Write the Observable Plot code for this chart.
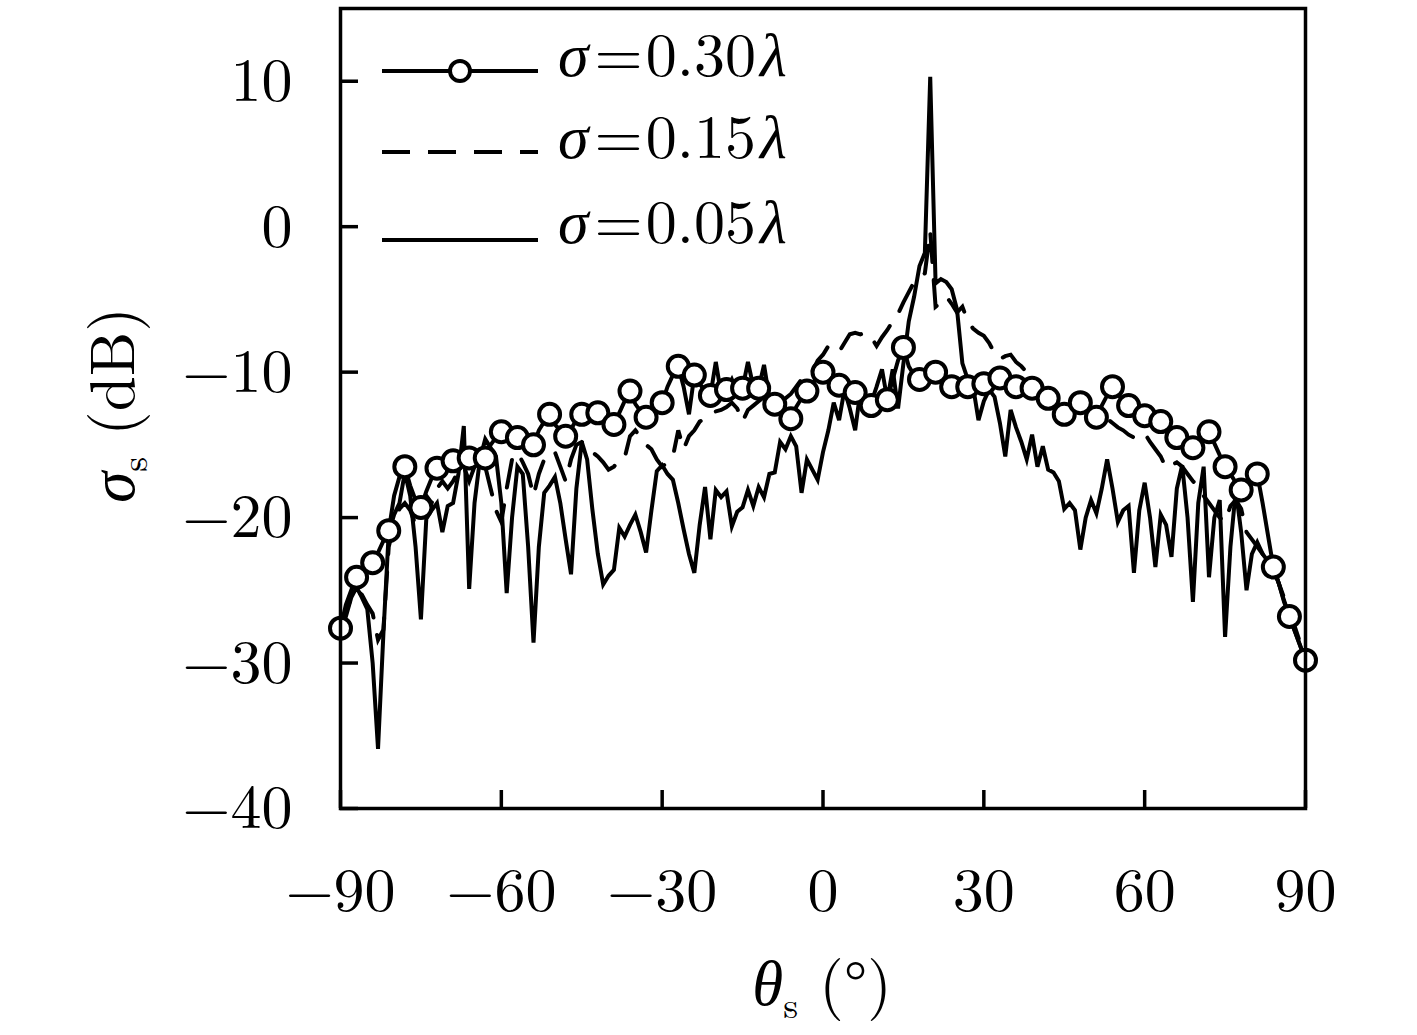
<!DOCTYPE html>
<html><head><meta charset="utf-8">
<script src="https://cdn.jsdelivr.net/npm/d3@7"></script>
<script src="https://cdn.jsdelivr.net/npm/@observablehq/plot@0.6"></script>
<style>html,body{margin:0;padding:0;background:#fff}</style>
</head><body><div id="chart"></div>
<script>
// scattering angle grid (degrees), 1° step
const angles = d3.range(-90, 91, 1);

// sigma = 0.30 lambda (markers every 3°)
const sigma030 = [
 -27.6,-26.0,-25.0,-24.1,-23.8,-23.5,-23.1,-22.4,-21.6,-20.9,
 -18.5,-17.2,-16.5,-17.8,-18.8,-19.3,-18.2,-17.3,-16.6,-16.4,
 -16.2,-16.1,-16.0,-15.9,-15.9,-15.8,-15.9,-15.9,-15.0,-14.5,
 -14.1,-14.3,-14.4,-14.5,-14.7,-14.9,-15.0,-14.0,-13.4,-12.9,
 -13.6,-14.0,-14.4,-13.9,-13.3,-12.9,-12.8,-12.8,-12.8,-13.1,
 -13.4,-13.6,-12.8,-12.0,-11.3,-12.2,-12.7,-13.1,-12.6,-12.3,
 -12.1,-11.0,-10.2,-9.6,-11.0,-12.9,-10.2,-10.8,-11.3,-11.6,
 -9.3,-11.5,-11.2,-10.5,-11.4,-11.1,-9.3,-11.0,-11.1,-9.5,
 -11.8,-12.2,-12.5,-12.9,-13.2,-12.4,-11.8,-11.3,-10.8,-10.3,
 -10.0,-10.4,-10.7,-10.9,-11.1,-11.3,-11.4,-11.8,-12.1,-12.3,
 -12.2,-12.0,-11.9,-10.5,-9.2,-8.3,-9.6,-10.2,-10.5,-10.3,
 -10.1,-10.0,-10.4,-10.8,-11.0,-11.0,-11.0,-11.0,-10.9,-10.8,
 -10.8,-10.6,-10.5,-10.4,-10.7,-10.9,-11.0,-11.0,-11.1,-11.1,
 -11.3,-11.6,-11.8,-12.2,-12.6,-12.9,-12.6,-12.3,-12.1,-12.5,
 -12.8,-13.1,-12.3,-11.6,-11.0,-11.5,-12.0,-12.3,-12.5,-12.8,
 -13.0,-13.1,-13.3,-13.4,-13.8,-14.2,-14.5,-14.8,-15.0,-15.2,
 -14.8,-14.4,-14.1,-14.9,-15.7,-16.5,-17.0,-17.6,-18.1,-17.7,
 -17.3,-17.0,-19.0,-21.2,-23.4,-24.5,-25.7,-26.8,-27.8,-28.8,
 -29.8
];

// sigma = 0.15 lambda (dashed)
const sigma015 = [
 -27.6,-26.5,-25.5,-25.0,-25.3,-26.0,-26.6,-28.4,-27.7,-22.0,
 -20.5,-19.4,-19.0,-19.5,-20.5,-19.5,-18.5,-19.0,-18.0,-17.5,
 -18.0,-17.5,-16.8,-16.5,-17.5,-16.5,-16.0,-16.5,-18.0,-19.5,
 -20.3,-18.0,-16.0,-15.5,-16.2,-17.0,-18.5,-17.0,-16.0,-15.5,
 -15.5,-16.5,-17.5,-16.0,-15.0,-14.8,-15.0,-15.5,-15.8,-16.2,
 -16.7,-16.5,-16.0,-15.9,-14.4,-14.0,-14.5,-15.0,-15.3,-16.0,
 -16.5,-16.2,-15.8,-14.0,-15.3,-14.4,-14.0,-13.4,-13.2,-13.0,
 -12.7,-12.6,-12.4,-12.1,-12.5,-13.4,-12.6,-12.3,-12.0,-11.7,
 -11.8,-12.0,-12.0,-11.8,-11.5,-11.0,-10.5,-10.5,-10.0,-9.2,
 -8.8,-8.2,-8.4,-8.6,-8.0,-7.4,-7.3,-7.4,-7.3,-7.6,
 -8.2,-7.6,-7.1,-6.5,-6.0,-5.2,-4.5,-3.8,-3.5,-3.2,
 -0.3,-5.5,-5.2,-4.8,-5.3,-5.9,-5.5,-6.5,-7.0,-7.3,
 -7.5,-8.0,-8.7,-9.1,-8.9,-8.8,-9.3,-9.6,-10.0,-10.5,
 -10.8,-11.2,-11.5,-11.8,-12.0,-12.3,-12.0,-12.3,-12.6,-12.8,
 -13.0,-13.2,-13.0,-13.2,-13.5,-13.8,-14.0,-14.3,-14.5,-14.3,
 -14.2,-14.8,-15.3,-15.8,-16.6,-16.4,-16.2,-16.5,-17.0,-17.5,
 -17.8,-18.5,-19.0,-19.5,-20.0,-20.3,-19.2,-18.8,-19.4,-21.0,
 -21.5,-22.0,-22.5,-23.0,-23.6,-24.5,-25.5,-26.5,-27.5,-28.6,
 -29.8
];

// sigma = 0.05 lambda (solid)
const sigma005 = [
 -27.6,-26.8,-25.5,-24.8,-25.5,-26.3,-30.0,-35.9,-28.0,-21.0,
 -19.8,-19.0,-16.9,-18.5,-22.0,-27.0,-20.1,-19.5,-19.0,-21.0,
 -19.2,-19.0,-17.0,-13.7,-24.9,-19.0,-16.0,-14.6,-15.2,-15.8,
 -19.0,-25.2,-20.0,-16.5,-17.0,-22.0,-28.6,-22.0,-18.3,-17.8,
 -17.2,-19.0,-21.5,-23.9,-18.0,-14.8,-16.0,-19.5,-22.5,-24.6,
 -24.0,-23.6,-20.7,-21.3,-20.5,-19.8,-21.0,-22.4,-19.5,-16.8,
 -16.4,-17.0,-17.4,-19.0,-20.8,-22.5,-23.8,-20.5,-17.9,-21.5,
 -18.1,-18.6,-18.2,-20.6,-19.6,-19.3,-18.1,-19.2,-17.9,-18.6,
 -17.0,-16.9,-14.8,-15.3,-14.4,-15.1,-18.3,-16.0,-16.7,-17.4,
 -15.5,-14.0,-12.1,-13.3,-11.2,-12.5,-14.0,-11.2,-12.0,-12.1,
 -11.0,-9.8,-11.9,-9.8,-12.5,-9.4,-6.5,-4.8,-2.7,-1.8,
 10.3,-3.9,-3.6,-3.8,-4.3,-5.7,-9.4,-10.5,-11.0,-13.3,
 -12.0,-11.2,-11.7,-13.5,-15.8,-12.6,-13.8,-14.8,-16.0,-14.3,
 -16.5,-15.1,-16.7,-16.9,-17.5,-19.4,-19.0,-19.5,-22.2,-20.0,
 -18.8,-19.7,-18.0,-16.0,-18.0,-20.3,-19.5,-19.2,-23.8,-19.5,
 -17.6,-20.0,-23.4,-19.8,-20.5,-22.7,-18.0,-16.4,-20.0,-25.8,
 -19.0,-16.5,-24.1,-20.0,-18.8,-28.2,-22.0,-18.1,-21.0,-25.0,
 -22.5,-21.7,-22.5,-23.0,-23.4,-24.5,-25.8,-26.8,-27.8,-28.8,
 -29.8
];

const yTicks = [10, 0, -10, -20, -30, -40];
const xTicks = [-90, -60, -30, 0, 30, 60, 90];
const seriesLabels = ["0.30", "0.15", "0.05"];

const toRows = arr => angles.map((a, i) => ({theta: a, v: arr[i]}));
const dA = toRows(sigma030), dB = toRows(sigma015), dC = toRows(sigma005);
const markers = dA.filter((d, i) => i % 3 === 0);

const FONT = "'Latin Modern Roman','CMU Serif','Liberation Serif','DejaVu Serif',serif";
const FS = 62;     // tick labels
const FL = 62;     // legend
const FA = 63;     // axis titles
const SW = 4;
const lineStyle = {x: "theta", y: "v", stroke: "#000", strokeWidth: SW, strokeLinejoin: "miter", strokeMiterlimit: 4, curve: "linear"};

const chart = Plot.plot({
  width: 1417, height: 1035,
  marginLeft: 340, marginRight: 112, marginTop: 8, marginBottom: 227,
  style: {fontFamily: FONT, fontSize: FS + "px", background: "#fff", color: "#000"},
  x: {domain: [-90, 90], label: null},
  y: {domain: [-40, 15], label: null},
  marks: [
    Plot.line(dC, lineStyle),
    Plot.line(dB, {...lineStyle, strokeDasharray: "28,18"}),
    Plot.line(dA, lineStyle),
    Plot.dot(markers, {x: "theta", y: "v", r: 10.5, fill: "#fff", stroke: "#000", strokeWidth: SW}),
    Plot.frame({stroke: "#000", strokeWidth: 3.5}),
    Plot.axisY(yTicks, {tickSize: 18, dx: 18, tickFormat: () => "", label: null, strokeWidth: 3.5}),
    Plot.axisX(xTicks, {tickSize: 18, dy: -18, tickFormat: () => "", label: null, strokeWidth: 3.5}),
    Plot.axisY(yTicks, {tickSize: 0, tickPadding: 48, fontSize: FS, label: null, fill: "#000"}),
    Plot.axisX(xTicks, {tickSize: 0, tickPadding: 58, fontSize: FS, label: null, fill: "#000"})
  ]
});
document.getElementById("chart").appendChild(chart);

const svg = d3.select(chart);
const gText = svg.append("g").attr("font-family", FONT).attr("fill", "#000");

// y axis label: sigma_s (dB)
const yl = gText.append("text").attr("transform", "translate(134,405) rotate(-90)")
  .attr("text-anchor", "middle").attr("font-size", FA);
yl.append("tspan").attr("font-style", "italic").text("σ");
yl.append("tspan").attr("font-size", 38).attr("dy", 13).text("s");
yl.append("tspan").attr("dy", -13).text(" (dB)");

// x axis label: theta_s (deg)
const xl = gText.append("text").attr("x", 822).attr("y", 1005)
  .attr("text-anchor", "middle").attr("font-size", FA);
xl.append("tspan").attr("font-style", "italic").text("θ");
xl.append("tspan").attr("font-size", 38).attr("dy", 13).text("s");
xl.append("tspan").attr("dy", -13).text(" (°)");

// legend
const legY = [71, 152, 240];
const legBase = [76, 158, 243];
const gLeg = svg.append("g");
seriesLabels.forEach((lab, i) => {
  const ln = gLeg.append("line").attr("x1", 382).attr("x2", 538)
    .attr("y1", legY[i]).attr("y2", legY[i]).attr("stroke", "#000").attr("stroke-width", SW);
  if (i === 1) ln.attr("stroke-dasharray", "28,18");
  if (i === 0) gLeg.append("circle").attr("cx", 460).attr("cy", legY[i]).attr("r", 10)
    .attr("fill", "#fff").attr("stroke", "#000").attr("stroke-width", SW);
  const t = gLeg.append("text").attr("x", 558).attr("y", legBase[i])
    .attr("text-anchor", "start")
    .attr("font-family", FONT).attr("font-size", FL).attr("fill", "#000");
  t.append("tspan").attr("font-style", "italic").text("σ");
  t.append("tspan").attr("dx", 6).text("=");
  t.append("tspan").attr("dx", 3).text(lab);
  t.append("tspan").attr("dx", 4).attr("font-style", "italic").text("λ");
});
</script>
</body></html>
